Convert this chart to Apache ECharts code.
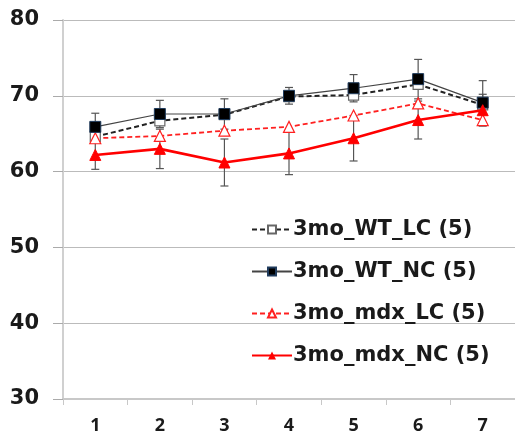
<!DOCTYPE html>
<html><head><meta charset="utf-8">
<script src="https://cdn.jsdelivr.net/npm/echarts@6/dist/echarts.min.js"></script>
<style>html,body{margin:0;padding:0;background:#fff}#c{width:515px;height:437px}</style>
</head><body><div id="c"></div>
<script>
const categories = ['1','2','3','4','5','6','7'];
const wtLC  = [64.6, 66.7, 67.5, 69.9, 70.1, 71.5, 68.8];
const wtNC  = [65.9, 67.6, 67.6, 70.0, 71.0, 72.2, 69.1];
const mdxLC = [64.4, 64.7, 65.4, 65.9, 67.4, 69.0, 66.8];
const mdxNC = [62.2, 63.0, 61.2, 62.4, 64.4, 66.8, 68.1];
const wtNCErr  = [1.8, 1.8, 2.0, 1.1, 1.8, 2.6, 2.9];
const mdxNCErr = [1.9, 2.6, 3.1, 2.8, 3.0, 2.5, 2.1];
const yTicks = [30, 40, 50, 60, 70, 80];

function errSeries(vals, errs) {
  return {
    type: 'custom', silent: true, z: 1,
    data: vals.map((v, i) => [i, v - errs[i], v + errs[i]]),
    renderItem: function (params, api) {
      const lo = api.coord([api.value(0), api.value(1)]);
      const hi = api.coord([api.value(0), api.value(2)]);
      const w = 4;
      const st = {stroke: '#555', lineWidth: 1.2};
      return {type: 'group', children: [
        {type: 'line', shape: {x1: lo[0], y1: lo[1], x2: hi[0], y2: hi[1]}, style: st},
        {type: 'line', shape: {x1: lo[0]-w, y1: lo[1], x2: lo[0]+w, y2: lo[1]}, style: st},
        {type: 'line', shape: {x1: hi[0]-w, y1: hi[1], x2: hi[0]+w, y2: hi[1]}, style: st}
      ]};
    }
  };
}

const chart = echarts.init(document.getElementById('c'));
chart.setOption({
  animation: false,
  grid: {left: 63, top: 20, width: 455, height: 379},
  xAxis: {
    type: 'category', data: categories, boundaryGap: true,
    axisLine: {lineStyle: {color: '#c8c8c8', width: 2}},
    axisTick: {show: true, length: 6, lineStyle: {color: '#c8c8c8'}},
    axisLabel: {color: '#1a1a1a', fontWeight: 'bold', fontSize: 18, fontFamily: 'Open Sans', margin: 18}
  },
  yAxis: {
    type: 'value', min: 30, max: 80, interval: 10,
    axisLine: {show: true, lineStyle: {color: '#d0d0d0', width: 2}},
    axisTick: {show: true, inside: false, length: 10, lineStyle: {color: '#aaa', width: 1}},
    splitLine: {lineStyle: {color: '#bbb', width: 1}},
    axisLabel: {color: '#1a1a1a', fontWeight: 'bold', fontSize: 21, fontFamily: 'DejaVu Sans', margin: 24,
      formatter: v => yTicks.includes(v) ? String(v) : ''}
  },
  legend: {
    orient: 'vertical', left: 246, top: 214, itemWidth: 40, itemHeight: 10, itemGap: 21,
    textStyle: {color: '#1a1a1a', fontWeight: 'bold', fontSize: 21, lineHeight: 21, fontFamily: 'DejaVu Sans', padding: [0,0,0,-4]},
    data: ['3mo_WT_LC (5)', '3mo_WT_NC (5)', '3mo_mdx_LC (5)', '3mo_mdx_NC (5)']
  },
  series: [
    errSeries(wtNC, wtNCErr),
    errSeries(mdxNC, mdxNCErr),
    {name: '3mo_WT_LC (5)', type: 'line', data: wtLC, z: 3,
      symbol: 'rect', symbolSize: 10,
      lineStyle: {color: '#222', width: 2, type: [5, 3]},
      itemStyle: {color: '#fff', borderColor: '#666', borderWidth: 1.2}},
    {name: '3mo_WT_NC (5)', type: 'line', data: wtNC, z: 4,
      symbol: 'rect', symbolSize: 11,
      lineStyle: {color: '#444', width: 1.2},
      itemStyle: {color: '#000', borderColor: '#1f3b5c', borderWidth: 1}},
    {name: '3mo_mdx_LC (5)', type: 'line', data: mdxLC, z: 3,
      symbol: 'triangle', symbolSize: 11,
      lineStyle: {color: '#ff2020', width: 1.8, type: [5, 3]},
      itemStyle: {color: '#fff', borderColor: '#ff2020', borderWidth: 1.2}},
    {name: '3mo_mdx_NC (5)', type: 'line', data: mdxNC, z: 5,
      symbol: 'triangle', symbolSize: 11,
      lineStyle: {color: '#ff0000', width: 2.6},
      itemStyle: {color: '#ff0000', borderColor: '#ff0000'}}
  ]
});
</script></body></html>
